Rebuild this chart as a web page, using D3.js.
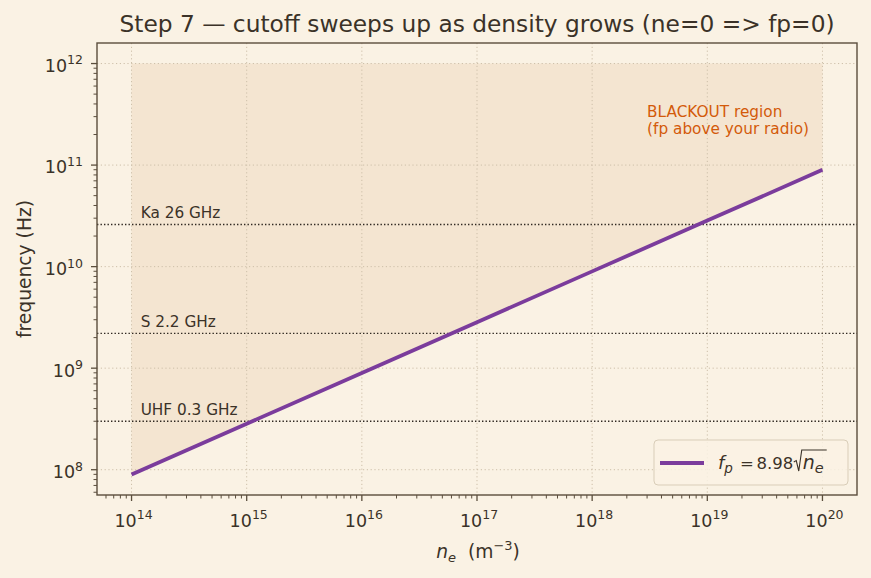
<!DOCTYPE html>
<html><head><meta charset="utf-8">
<script src="https://cdn.jsdelivr.net/npm/d3@7"></script>
<style>
body{margin:0;background:#faf2e4;}
svg{display:block;font-family:"DejaVu Sans",sans-serif;}
</style></head>
<body><svg id="c" width="871" height="578"></svg>
<script>
// ---- data ----
const densityEnds = [1e14, 1e20];               // n_e sweep (m^-3)
const densitySamples = [1e14,1e15,1e16,1e17,1e18,1e19,1e20];
const plasmaCoef = 8.98;                          // fp = 8.98*sqrt(ne)
const bandNames = ["UHF 0.3 GHz","S 2.2 GHz","Ka 26 GHz"];
const bandFreqs = [3e8, 2.2e9, 2.6e10];
const blackoutTop = 1e12;
const xTickExps = [14,15,16,17,18,19,20];
const yTickExps = [8,9,10,11,12];
const titleText = "Step 7 \u2014 cutoff sweeps up as density grows (ne=0 => fp=0)";
const blackoutLines = ["BLACKOUT region","(fp above your radio)"];

// ---- layout ----
const L=97,R=857,T=43,B=495;
const svg=d3.select("#c");
const ink="#3b3228", spine="#5b4e3d";
svg.append("rect").attr("width",871).attr("height",578).attr("fill","#faf2e4");

const lx0=Math.log10(densityEnds[0]), lx1=Math.log10(densityEnds[1]);
const xm=(lx1-lx0)*0.05;
const curve = densitySamples.map(n=>({x:n,y:plasmaCoef*Math.sqrt(n)}));
const ly0=Math.log10(d3.min(curve,d=>d.y)), ly1=Math.log10(blackoutTop);
const ym=(ly1-ly0)*0.05;
const x=d3.scaleLog().domain([10**(lx0-xm),10**(lx1+xm)]).range([L,R]);
const y=d3.scaleLog().domain([10**(ly0-ym),10**(ly1+ym)]).range([B,T]);

const g=svg.append("g");
// fill region
g.append("path").datum(curve)
 .attr("d",d3.area().x(d=>x(d.x)).y0(y(blackoutTop)).y1(d=>y(d.y)))
 .attr("fill","#f4e5d1");

// grid
const gridC="#cdbfa9";
xTickExps.forEach(e=>g.append("line").attr("x1",x(10**e)).attr("x2",x(10**e)).attr("y1",T).attr("y2",B)
  .attr("stroke",gridC).attr("stroke-width",1).attr("stroke-dasharray","1.2,2.6"));
yTickExps.forEach(e=>g.append("line").attr("y1",y(10**e)).attr("y2",y(10**e)).attr("x1",L).attr("x2",R)
  .attr("stroke",gridC).attr("stroke-width",1).attr("stroke-dasharray","1.2,2.6"));

// band lines
bandFreqs.forEach((f,i)=>{
  g.append("line").attr("x1",L).attr("x2",R).attr("y1",y(f)).attr("y2",y(f))
   .attr("stroke","#2e2720").attr("stroke-width",1.4).attr("stroke-dasharray","1.4,2.1");
  g.append("text").attr("x",x(1.2e14)).attr("y",y(f)-6).attr("font-size",15.3)
   .attr("fill",ink).text(bandNames[i]);
});

// curve
g.append("path").datum(curve)
 .attr("d",d3.line().x(d=>x(d.x)).y(d=>y(d.y)))
 .attr("fill","none").attr("stroke","#7b3c9c").attr("stroke-width",3.8);

// blackout text
blackoutLines.forEach((t,i)=>g.append("text").attr("x",x(3e18)).attr("y",117.3+i*17)
  .attr("font-size",15.3).attr("fill","#d35a0a").text(t));

// spines
svg.append("rect").attr("x",L).attr("y",T).attr("width",R-L).attr("height",B-T)
 .attr("fill","none").attr("stroke",spine).attr("stroke-width",1.4);

// ticks
function minors(d){const out=[];const a=Math.floor(Math.log10(d[0])),b=Math.ceil(Math.log10(d[1]));
  for(let e=a;e<=b;e++)for(let k=2;k<=9;k++){const v=k*10**e;if(v>=d[0]&&v<=d[1])out.push(v);}return out;}
minors(x.domain()).forEach(v=>svg.append("line").attr("x1",x(v)).attr("x2",x(v)).attr("y1",B).attr("y2",B+3.5).attr("stroke",spine).attr("stroke-width",1));
minors(y.domain()).forEach(v=>svg.append("line").attr("y1",y(v)).attr("y2",y(v)).attr("x1",L).attr("x2",L-3.5).attr("stroke",spine).attr("stroke-width",1));
const tf=17.5, sf=12.5;
xTickExps.forEach(e=>{
  const px=x(10**e);
  svg.append("line").attr("x1",px).attr("x2",px).attr("y1",B).attr("y2",B+6).attr("stroke",spine).attr("stroke-width",1.3);
  const t=svg.append("text").attr("x",px+2).attr("y",B+31.7).attr("text-anchor","middle").attr("font-size",tf).attr("fill",ink);
  t.append("tspan").text("10");
  t.append("tspan").attr("dy",-7.5).attr("font-size",sf).text(e);
});
yTickExps.forEach(e=>{
  const py=y(10**e);
  svg.append("line").attr("y1",py).attr("y2",py).attr("x1",L).attr("x2",L-6).attr("stroke",spine).attr("stroke-width",1.3);
  const t=svg.append("text").attr("x",L-14).attr("y",py+8.4).attr("text-anchor","end").attr("font-size",tf).attr("fill",ink);
  t.append("tspan").text("10");
  t.append("tspan").attr("dy",-7.5).attr("font-size",sf).text(e);
});

// axis labels
svg.append("text").attr("transform",`translate(31,${(T+B)/2}) rotate(-90)`).attr("text-anchor","middle")
 .attr("font-size",18.7).attr("fill",ink).text("frequency (Hz)");
const xl=svg.append("text").attr("x",478).attr("y",558).attr("text-anchor","middle").attr("font-size",18.7).attr("fill",ink);
xl.append("tspan").attr("font-style","italic").text("n");
xl.append("tspan").attr("font-style","italic").attr("font-size",13).attr("dy",4).text("e");
xl.append("tspan").attr("dy",-4).text("\u00a0\u00a0(m");
xl.append("tspan").attr("dy",-8).attr("font-size",13).text("\u22123");
xl.append("tspan").attr("dy",8).text(")");

// title
svg.append("text").attr("x",(L+R)/2).attr("y",32.3).attr("text-anchor","middle").attr("font-size",23.3)
 .attr("fill",ink).text(titleText);

// legend
const lg=svg.append("g");
lg.append("rect").attr("x",654).attr("y",440).attr("width",194).attr("height",45).attr("rx",4)
 .attr("fill","#faf2e4").attr("fill-opacity",0.85).attr("stroke","#d9cdb8").attr("stroke-width",1);
lg.append("line").attr("x1",660).attr("x2",704).attr("y1",463).attr("y2",463).attr("stroke","#7b3c9c").attr("stroke-width",3.8);
const lfs=16.5, ly=469;
const t1=lg.append("text").attr("x",718).attr("y",ly).attr("font-size",18).attr("fill",ink);
t1.append("tspan").attr("font-style","italic").text("f");
t1.append("tspan").attr("font-style","italic").attr("font-size",13.5).attr("dy",4).text("p");
lg.append("text").attr("x",740).attr("y",ly).attr("font-size",lfs).attr("fill",ink).text("=");
const t3=lg.append("text").attr("x",756.5).attr("y",ly).attr("font-size",lfs).attr("fill",ink).text("8.98");
// radical sign + n_e under overline
const rx=756.5+t3.node().getComputedTextLength()+0.5, rTop=450;
const lt2=lg.append("text").attr("x",rx+9).attr("y",ly).attr("font-size",19).attr("fill",ink);
lt2.append("tspan").attr("font-style","italic").text("n");
lt2.append("tspan").attr("font-style","italic").attr("font-size",14.5).attr("dy",4).text("e");
const w2=lt2.node().getComputedTextLength();
lg.append("path").attr("d",`M${rx},${462} L${rx+2.5},${460.5} L${rx+5},${471} L${rx+8},${rTop} L${rx+9+w2+3},${rTop}`)
 .attr("fill","none").attr("stroke",ink).attr("stroke-width",1.1);
</script></body></html>
